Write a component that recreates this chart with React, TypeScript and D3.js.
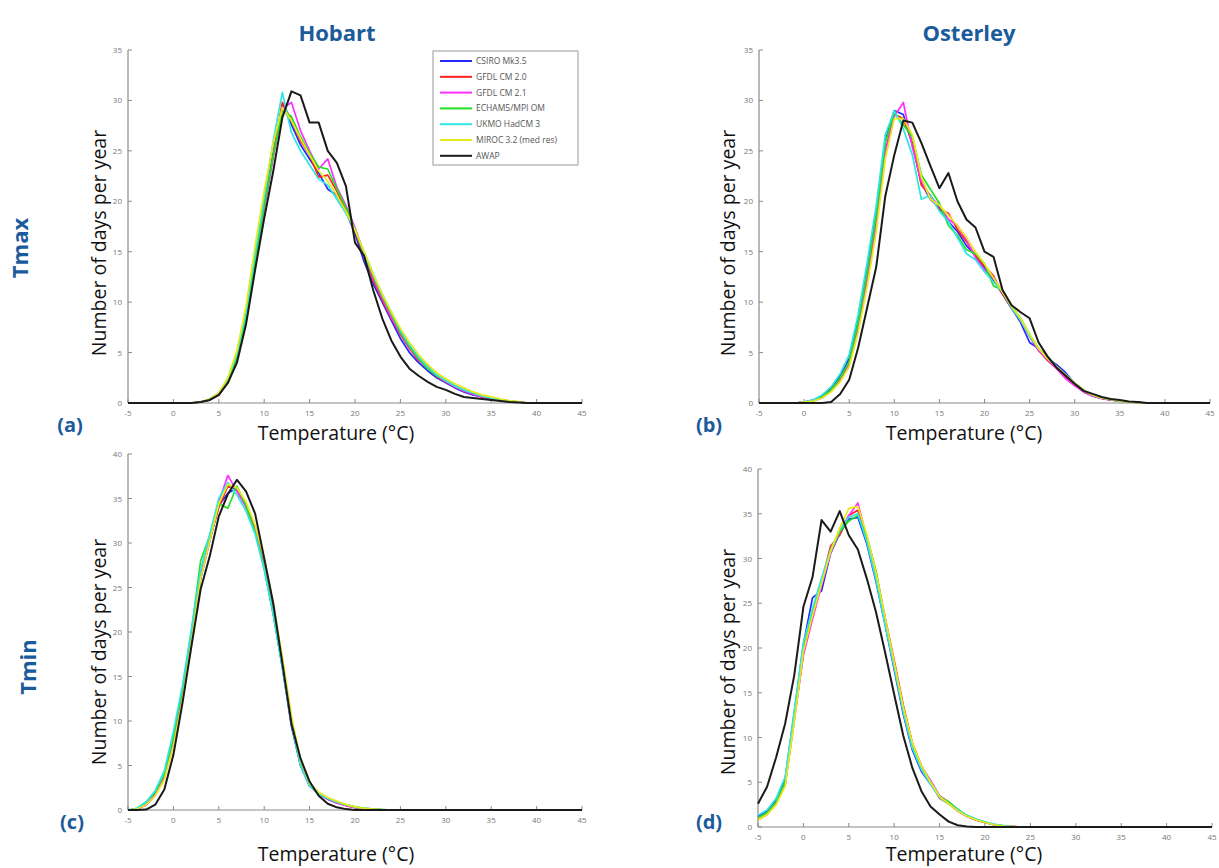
import React from "react";
import * as d3 from "d3";

// Temperature bins (°C)
const TEMPS = [-5,-4,-3,-2,-1,0,1,2,3,4,5,6,7,8,9,10,11,12,13,14,15,16,17,18,19,20,21,22,23,24,25,26,27,28,29,30,31,32,33,34,35,36,37,38,39,40,41,42,43,44,45];

const SERIES_NAMES = ["CSIRO Mk3.5", "GFDL CM 2.0", "GFDL CM 2.1", "ECHAM5/MPI OM", "UKMO HadCM 3", "MIROC 3.2 (med res)", "AWAP"];
const SERIES_COLORS = ["#2626ff", "#ff2020", "#ff30ff", "#22e022", "#2ee6e6", "#e8e81a", "#1a1a1a"];

const X_TICKS = [-5,0,5,10,15,20,25,30,35,40,45];
const Y_TICKS_TMAX = [0,5,10,15,20,25,30,35];
const Y_TICKS_TMIN = [0,5,10,15,20,25,30,35,40];

// (a) Hobart Tmax
const A_CSIRO = [0,0,0,0,0,0,0,0,0.1,0.3,0.9,2.2,4.6,8.6,14.2,19.6,24.8,29.6,27.6,25.6,24.2,22.8,21.2,20.6,19.0,16.8,14.0,11.8,10.0,8.2,6.4,5.0,4.0,3.2,2.5,2.0,1.5,1.1,0.8,0.6,0.4,0.3,0.2,0.1,0,0,0,0,0,0,0];
const A_GFDL20 = [0,0,0,0,0,0,0,0,0.1,0.3,0.8,2.1,4.4,8.4,14.0,19.4,24.6,29.8,28.0,26.0,24.6,22.4,22.6,21.0,19.2,17.0,14.6,12.2,10.2,8.4,6.8,5.4,4.2,3.8,2.6,2.1,1.6,1.2,0.9,0.6,0.45,0.3,0.2,0.1,0,0,0,0,0,0,0];
const A_GFDL21 = [0,0,0,0,0,0,0,0,0.1,0.3,0.8,2.0,4.3,8.2,13.8,19.2,24.4,29.2,29.8,27.0,25.0,23.2,24.2,21.4,19.6,17.4,14.8,12.4,10.4,8.5,6.9,5.5,4.3,3.4,2.7,2.1,1.6,1.2,0.9,0.6,0.45,0.3,0.2,0.1,0,0,0,0,0,0,0];
const A_ECHAM = [0,0,0,0,0,0,0,0,0.1,0.3,0.9,2.2,4.5,8.5,14.0,19.5,24.6,29.0,28.4,26.4,24.8,23.4,23.2,21.2,19.4,17.2,14.8,12.6,10.6,8.8,7.0,5.6,4.4,3.4,2.7,2.2,1.7,1.3,1.0,0.7,0.5,0.35,0.2,0.1,0,0,0,0,0,0,0];
const A_UKMO = [0,0,0,0,0,0,0,0,0.1,0.4,1.0,2.4,4.9,9.0,14.8,20.4,26.0,30.8,26.8,25.0,23.6,22.2,21.6,20.2,18.8,17.2,15.0,12.8,10.8,9.0,7.2,5.8,4.6,3.6,2.8,2.2,1.7,1.3,1.0,0.7,0.5,0.35,0.2,0.1,0,0,0,0,0,0,0];
const A_MIROC = [0,0,0,0,0,0,0,0,0.1,0.4,1.0,2.5,5.2,9.6,15.6,21.0,25.8,29.3,28.0,26.2,24.6,23.0,22.0,20.6,19.0,17.2,15.0,12.8,10.8,9.0,7.4,6.0,4.8,3.8,3.0,2.4,1.9,1.5,1.1,0.8,0.6,0.4,0.25,0.15,0,0,0,0,0,0,0];
const A_AWAP = [0,0,0,0,0,0,0,0,0.1,0.3,0.8,2.0,4.0,7.8,13.2,18.3,23.0,28.3,30.9,30.5,27.8,27.8,25.0,23.8,21.5,15.9,14.6,11.2,8.4,6.2,4.6,3.4,2.7,2.1,1.6,1.3,0.9,0.6,0.5,0.4,0.3,0.2,0.1,0.05,0,0,0,0,0,0,0];

// (b) Osterley Tmax
const B_CSIRO = [0,0,0,0,0,0.1,0.3,0.7,1.5,2.7,4.4,8.2,13.2,18.8,26.0,29.0,28.6,25.6,21.8,20.2,19.4,18.0,17.0,15.6,14.6,13.4,12.2,10.8,9.4,8.0,6.0,5.4,4.4,3.8,3.0,1.9,1.1,0.7,0.45,0.3,0.2,0.1,0.05,0,0,0,0,0,0,0,0];
const B_GFDL20 = [0,0,0,0,0,0.1,0.2,0.6,1.3,2.4,4.0,7.6,12.4,17.8,25.0,28.6,28.2,25.8,21.6,20.6,19.2,18.8,17.2,16.0,14.6,13.6,12.6,10.8,9.4,8.2,6.6,5.2,4.2,3.4,2.5,1.8,1.1,0.7,0.45,0.3,0.2,0.1,0.05,0,0,0,0,0,0,0,0];
const B_GFDL21 = [0,0,0,0,0,0.1,0.2,0.5,1.2,2.2,3.8,7.4,12.2,17.6,24.8,28.4,29.8,25.4,22.0,20.4,19.6,18.2,17.6,16.2,14.4,13.2,12.4,11.0,9.6,8.2,6.6,5.2,4.3,3.4,2.4,1.7,1.1,0.7,0.45,0.3,0.2,0.1,0.05,0,0,0,0,0,0,0,0];
const B_ECHAM = [0,0,0,0,0,0.1,0.2,0.6,1.3,2.5,4.1,8.0,13.0,18.6,25.8,28.8,27.6,26.4,22.6,21.2,19.8,17.6,16.6,15.2,14.8,13.8,11.6,11.2,9.6,8.4,6.8,5.4,4.6,3.6,2.7,1.9,1.2,0.8,0.5,0.35,0.2,0.1,0.05,0,0,0,0,0,0,0,0];
const B_UKMO = [0,0,0,0,0,0.1,0.3,0.8,1.6,2.9,4.8,8.8,14.0,19.6,26.6,29.0,27.2,24.6,20.2,20.6,19.0,18.0,16.4,14.8,14.2,13.0,12.0,11.0,9.4,8.2,6.6,5.4,4.4,3.6,2.8,2.0,1.3,0.8,0.5,0.35,0.2,0.1,0.05,0,0,0,0,0,0,0,0];
const B_MIROC = [0,0,0,0,0,0.1,0.2,0.5,1.1,2.1,3.6,7.0,11.6,17.0,24.2,28.2,28.2,26.6,22.4,20.2,19.6,18.6,17.6,16.4,15.0,13.8,12.4,11.0,9.6,8.4,6.8,5.4,4.4,3.6,2.8,2.0,1.3,0.8,0.5,0.35,0.2,0.1,0.05,0,0,0,0,0,0,0,0];
const B_AWAP = [0,0,0,0,0,0,0,0,0.1,0.9,2.3,5.5,9.5,13.5,20.5,24.6,28.0,27.8,25.8,23.5,21.3,22.8,20.0,18.2,17.4,15.0,14.5,11.2,9.7,9.0,8.4,6.0,4.6,3.5,2.7,1.9,1.2,0.9,0.6,0.4,0.3,0.15,0.1,0,0,0,0,0,0,0,0];

// (c) Hobart Tmin
const C_CSIRO = [0,0.1,0.6,1.7,3.6,7.6,12.8,19.2,26.0,30.2,34.2,35.6,36.2,34.2,31.4,27.2,22.0,16.0,9.4,5.0,2.7,1.8,1.2,0.8,0.5,0.3,0.15,0.08,0.03,0,0,0,0,0,0,0,0,0,0,0,0,0,0,0,0,0,0,0,0,0,0];
const C_GFDL20 = [0,0.1,0.6,1.7,3.7,7.7,12.8,19.4,26.2,30.4,34.0,36.4,36.0,34.4,31.8,27.8,22.8,16.8,10.2,5.2,2.8,1.8,1.3,0.9,0.5,0.3,0.15,0.08,0.03,0,0,0,0,0,0,0,0,0,0,0,0,0,0,0,0,0,0,0,0,0,0];
const C_GFDL21 = [0,0.1,0.6,1.7,3.7,7.6,12.8,19.4,26.4,30.6,34.6,37.6,35.8,34.0,31.4,27.4,22.4,16.4,10.0,5.0,2.7,1.8,1.2,0.8,0.5,0.3,0.15,0.08,0.03,0,0,0,0,0,0,0,0,0,0,0,0,0,0,0,0,0,0,0,0,0,0];
const C_ECHAM = [0,0.2,0.9,2.0,4.0,8.2,13.6,20.2,28.0,30.8,34.4,33.9,36.4,34.2,31.2,27.2,22.0,16.2,9.8,5.0,2.8,1.9,1.3,0.9,0.6,0.35,0.2,0.1,0.05,0,0,0,0,0,0,0,0,0,0,0,0,0,0,0,0,0,0,0,0,0,0];
const C_UKMO = [0,0.2,0.9,2.2,4.4,8.8,14.0,20.4,27.0,31.0,35.0,36.8,35.4,33.6,31.0,27.0,22.0,16.0,9.8,5.0,2.7,1.8,1.3,0.9,0.6,0.35,0.2,0.1,0.05,0,0,0,0,0,0,0,0,0,0,0,0,0,0,0,0,0,0,0,0,0,0];
const C_MIROC = [0,0.1,0.6,1.6,3.4,7.2,12.4,19.0,26.0,30.2,34.4,36.6,36.2,34.6,32.0,28.2,23.2,17.2,10.6,5.6,3.0,2.0,1.4,1.0,0.6,0.35,0.2,0.1,0.05,0,0,0,0,0,0,0,0,0,0,0,0,0,0,0,0,0,0,0,0,0,0];
const C_AWAP = [0,0,0.05,0.6,2.3,6.2,12.0,18.5,24.8,28.5,33.0,35.5,37.1,35.8,33.3,28.3,23.2,16.5,9.7,5.8,3.2,1.6,0.7,0.3,0.1,0,0,0,0,0,0,0,0,0,0,0,0,0,0,0,0,0,0,0,0,0,0,0,0,0,0];

// (d) Osterley Tmin
const D_CSIRO = [1.2,1.8,3.0,5.4,12.8,20.4,25.6,26.4,30.6,32.8,34.4,34.6,31.6,27.4,22.6,17.6,12.6,8.6,6.2,4.8,3.4,2.7,1.8,1.2,0.8,0.5,0.25,0.1,0.05,0,0,0,0,0,0,0,0,0,0,0,0,0,0,0,0,0,0,0,0,0,0];
const D_GFDL20 = [0.8,1.4,2.6,4.8,12.0,19.4,23.4,27.4,31.4,32.6,34.8,35.4,32.4,28.4,23.4,18.6,13.6,9.4,6.8,5.0,3.2,2.6,1.8,1.2,0.8,0.5,0.25,0.1,0.05,0,0,0,0,0,0,0,0,0,0,0,0,0,0,0,0,0,0,0,0,0,0];
const D_GFDL21 = [0.9,1.5,2.7,4.9,12.2,19.2,23.2,27.0,30.6,33.0,34.8,36.2,32.2,28.0,23.0,18.2,13.2,9.2,6.8,5.2,3.5,2.8,1.9,1.2,0.8,0.5,0.25,0.1,0.05,0,0,0,0,0,0,0,0,0,0,0,0,0,0,0,0,0,0,0,0,0,0];
const D_ECHAM = [1.0,1.6,2.8,5.0,12.4,20.0,24.0,27.6,30.8,33.0,34.2,34.8,32.4,28.6,23.2,18.2,13.2,9.2,6.8,5.0,3.4,2.8,2.0,1.3,0.9,0.55,0.3,0.15,0.05,0,0,0,0,0,0,0,0,0,0,0,0,0,0,0,0,0,0,0,0,0,0];
const D_UKMO = [1.3,1.9,3.2,5.6,13.0,20.6,24.4,27.8,31.0,33.2,34.6,35.0,31.8,27.6,22.6,17.8,12.8,8.8,6.4,4.8,3.3,2.6,1.9,1.3,0.9,0.55,0.3,0.15,0.05,0,0,0,0,0,0,0,0,0,0,0,0,0,0,0,0,0,0,0,0,0,0];
const D_MIROC = [0.8,1.4,2.5,4.6,11.8,19.6,23.6,27.2,30.8,33.4,35.6,35.8,32.6,28.4,23.4,18.4,13.4,9.4,6.8,5.0,3.4,2.6,1.8,1.2,0.8,0.5,0.25,0.1,0.05,0,0,0,0,0,0,0,0,0,0,0,0,0,0,0,0,0,0,0,0,0,0];
const D_AWAP = [2.6,4.5,7.8,11.6,17.0,24.6,27.9,34.3,33.0,35.3,32.6,31.0,27.7,24.0,19.5,14.8,10.2,6.6,4.0,2.3,1.4,0.6,0.2,0.05,0,0,0,0,0,0,0,0,0,0,0,0,0,0,0,0,0,0,0,0,0,0,0,0,0,0,0];

const PANELS = [
  { id: "a", series: [A_CSIRO, A_GFDL20, A_GFDL21, A_ECHAM, A_UKMO, A_MIROC, A_AWAP], yTicks: Y_TICKS_TMAX, px: [128, 582], py: [403, 50], ylab: [98, 243], xlab: [336, 440], tag: [70, 432], legend: true },
  { id: "b", series: [B_CSIRO, B_GFDL20, B_GFDL21, B_ECHAM, B_UKMO, B_MIROC, B_AWAP], yTicks: Y_TICKS_TMAX, px: [759, 1210], py: [403, 50], ylab: [727, 243], xlab: [964, 440], tag: [709, 432], legend: false },
  { id: "c", series: [C_CSIRO, C_GFDL20, C_GFDL21, C_ECHAM, C_UKMO, C_MIROC, C_AWAP], yTicks: Y_TICKS_TMIN, px: [128, 582], py: [810, 454], ylab: [98, 652], xlab: [336, 861], tag: [72, 829], legend: false },
  { id: "d", series: [D_CSIRO, D_GFDL20, D_GFDL21, D_ECHAM, D_UKMO, D_MIROC, D_AWAP], yTicks: Y_TICKS_TMIN, px: [758, 1212], py: [827, 469], ylab: [727, 662], xlab: [964, 861], tag: [709, 829], legend: false },
];

const BLUE = "#1b5b9c";
const SANS = "'Open Sans', 'Noto Sans', sans-serif";

function Panel({ cfg }: { cfg: any }) {
  const x = d3.scaleLinear().domain([-5, 45]).range(cfg.px);
  const yMax = cfg.yTicks[cfg.yTicks.length - 1];
  const y = d3.scaleLinear().domain([0, yMax]).range(cfg.py);
  const line = d3.line<number>().x((_, i) => x(TEMPS[i])).y((d) => y(d)).curve(d3.curveLinear);
  const axisColor = "#8a8a8a";
  return (
    <g>
      {/* axes */}
      <line x1={x(-5)} x2={x(45)} y1={y(0)} y2={y(0)} stroke={axisColor} strokeWidth={1.2} />
      <line x1={x(-5)} x2={x(-5)} y1={y(0)} y2={y(yMax)} stroke={axisColor} strokeWidth={1.2} />
      {X_TICKS.map((t) => (
        <g key={"xt" + t}>
          <line x1={x(t)} x2={x(t)} y1={y(0)} y2={y(0) - 4} stroke={axisColor} strokeWidth={1} />
          <text x={x(t)} y={y(0) + 13} fontSize={8} fill="#777" textAnchor="middle" fontFamily={SANS}>{t}</text>
        </g>
      ))}
      {cfg.yTicks.map((t: number) => (
        <g key={"yt" + t}>
          <line x1={x(-5)} x2={x(-5) + 4} y1={y(t)} y2={y(t)} stroke={axisColor} strokeWidth={1} />
          <text x={x(-5) - 6} y={y(t) + 3} fontSize={8} fill="#777" textAnchor="end" fontFamily={SANS}>{t}</text>
        </g>
      ))}
      {/* curves */}
      {cfg.series.map((s: number[], i: number) => (
        <path key={i} d={line(s) || ""} fill="none" stroke={SERIES_COLORS[i]} strokeWidth={i === 6 ? 2 : 1.7} strokeLinejoin="round" />
      ))}
      {/* labels */}
      <text x={cfg.ylab[0]} y={cfg.ylab[1]} transform={`rotate(-90 ${cfg.ylab[0]} ${cfg.ylab[1]})`} textAnchor="middle" dominantBaseline="central" fontSize={19.5} fontFamily={SANS} fill="#111">Number of days per year</text>
      <text x={cfg.xlab[0]} y={cfg.xlab[1]} textAnchor="middle" fontSize={19.5} fontFamily={SANS} fill="#111">Temperature (°C)</text>
      <text x={cfg.tag[0]} y={cfg.tag[1]} textAnchor="middle" fontSize={20} fontWeight="bold" fontFamily={SANS} fill={BLUE}>({cfg.id})</text>
      {cfg.legend && (
        <g>
          <rect x={433} y={51} width={145} height={114} fill="#fff" stroke="#999" strokeWidth={1} />
          {SERIES_NAMES.map((n, i) => (
            <g key={n}>
              <line x1={440} x2={472} y1={61 + i * 15.8} y2={61 + i * 15.8} stroke={SERIES_COLORS[i]} strokeWidth={2} />
              <text x={476} y={64 + i * 15.8} fontSize={8.5} fill="#555" fontFamily={SANS}>{n}</text>
            </g>
          ))}
        </g>
      )}
    </g>
  );
}

export default function App() {
  return (
    <svg width={1219} height={868} style={{ position: "absolute", left: 0, top: 0, background: "#fff" }}>
      <rect x={0} y={0} width={1219} height={868} fill="#fff" />
      <text x={337} y={41} textAnchor="middle" fontSize={22} fontWeight="bold" fontFamily={SANS} fill={BLUE}>Hobart</text>
      <text x={969} y={41} textAnchor="middle" fontSize={22} fontWeight="bold" fontFamily={SANS} fill={BLUE}>Osterley</text>
      <text x={19} y={248} transform="rotate(-90 19 248)" textAnchor="middle" dominantBaseline="central" fontSize={22} fontWeight="bold" fontFamily={SANS} fill={BLUE}>Tmax</text>
      <text x={27} y={667} transform="rotate(-90 27 667)" textAnchor="middle" dominantBaseline="central" fontSize={22} fontWeight="bold" fontFamily={SANS} fill={BLUE}>Tmin</text>
      {PANELS.map((p) => (
        <Panel key={p.id} cfg={p} />
      ))}
    </svg>
  );
}
